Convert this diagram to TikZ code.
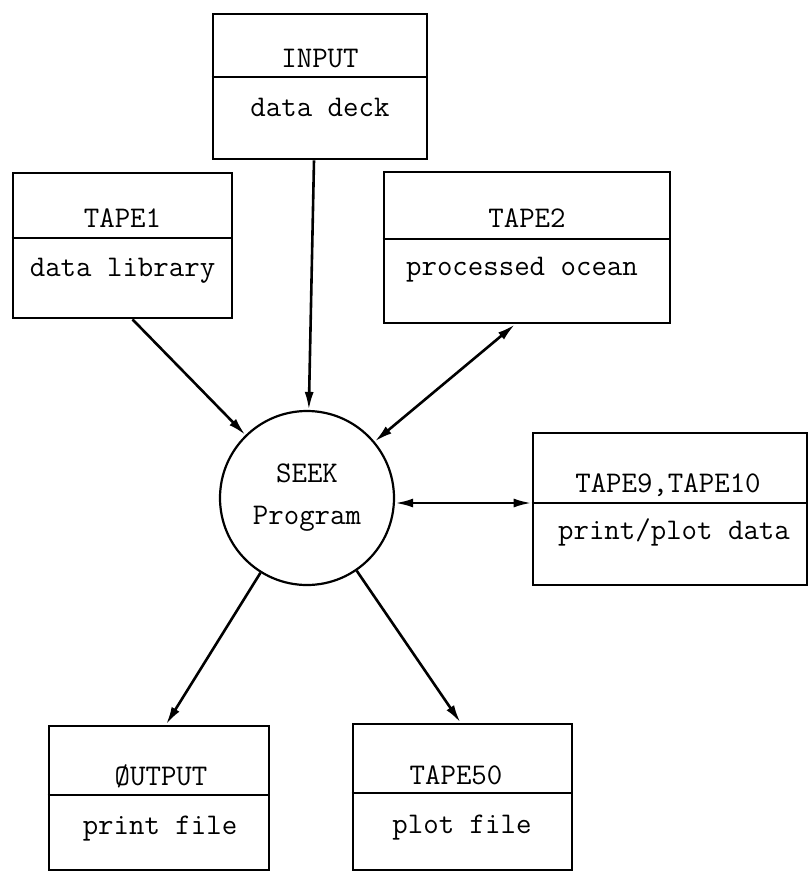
\documentclass[tikz,border=0pt]{standalone}
\usepackage{tikz}
\usetikzlibrary{arrows.meta}
\tikzset{
	filebox/.style={
		rectangle,
		draw,
		line width=1.4pt,
		inner sep=0pt
	},
	divider/.style={line width=1.3pt},
	boxtitle/.style={anchor=base, font=\ttfamily\fontsize{15}{21}\selectfont},
	boxtext/.style={anchor=base, font=\ttfamily\fontsize{15}{21}\selectfont},
	prog/.style={
		circle,
		draw,
		line width=1.1pt,
		minimum size=87pt,
		inner sep=0pt,
		align=center,
		font=\ttfamily\fontsize{15}{21}\selectfont
	},
	line/.style={-{Latex[length=9pt,width=4.5pt]},line width=1.3pt},
	dline/.style={{Latex[length=9pt,width=4.5pt]}-{Latex[length=9pt,width=4.5pt]},line width=1.3pt}
}

\begin{document}
\begin{tikzpicture}[x=0.5pt,y=-0.5pt]
		\useasboundingbox (0,0) rectangle (811,874);
		% input deck
		\node[filebox,minimum width=107pt,minimum height=72.5pt] (input) at (320,86.5) {};
		\draw[divider] (input.west |- 0,77) -- (input.east |- 0,77);
		\node[boxtitle] (inputT) at (320,67) {INPUT};
		\node[boxtext] (inputD) at (320,116) {data deck};
		% tapes on top
		\node[filebox,minimum width=109.5pt,minimum height=72.5pt] (tape1) at (122.5,245.5) {};
		\draw[divider] (tape1.west |- 0,238) -- (tape1.east |- 0,238);
		\node[boxtitle] (tape1T) at (122.5,227) {TAPE1};
		\node[boxtext] (tape1D) at (122.5,276) {data library};
		\node[filebox,minimum width=143pt,minimum height=75.5pt] (tape2) at (527,247.5) {};
		\draw[divider] (tape2.west |- 0,239) -- (tape2.east |- 0,239);
		\node[boxtitle] (tape2T) at (527,227) {TAPE2};
		\node[boxtext] (tape2D) at (522,275) {processed ocean};
		% program
		\node[prog] (seek) at (307,498) {SEEK\\Program};
		\node[filebox,minimum width=137pt,minimum height=76pt] (tape9) at (670,509) {};
		\draw[divider] (tape9.west |- 0,503) -- (tape9.east |- 0,503);
		\node[boxtitle] (tape9T) at (668,492) {TAPE9,TAPE10};
		\node[boxtext] (tape9D) at (674,539) {print/plot data};
		% outputs
		\node[filebox,minimum width=110pt,minimum height=72pt] (output) at (159,798) {};
		\draw[divider] (output.west |- 0,795) -- (output.east |- 0,795);
		\node[boxtitle] (outputT) at (161,785) {ØUTPUT};
		\node[boxtext] (outputD) at (160,834) {print file};
		\node[filebox,minimum width=109.5pt,minimum height=73pt] (tape50) at (462.5,797) {};
		\draw[divider] (tape50.west |- 0,793) -- (tape50.east |- 0,793);
		\node[boxtitle] (tape50T) at (456,784) {TAPE50};
		\node[boxtext] (tape50D) at (462,833) {plot file};

		\draw[line] ([xshift=5pt]tape1.south) -- (seek);
		\draw[line] ([xshift=-3pt]input.south) -- (seek);
		\draw[dline] ([xshift=-6pt]tape2.south) -- (seek);
		\draw[dline] ([yshift=-2.5pt]seek.east) -- ([yshift=-2.5pt]seek.east -| tape9.west);
		\draw[line] (seek) -- ([xshift=3.5pt]output.north);
		\draw[line] (seek) -- ([xshift=-1pt]tape50.north);
	\end{tikzpicture}
\end{document}
